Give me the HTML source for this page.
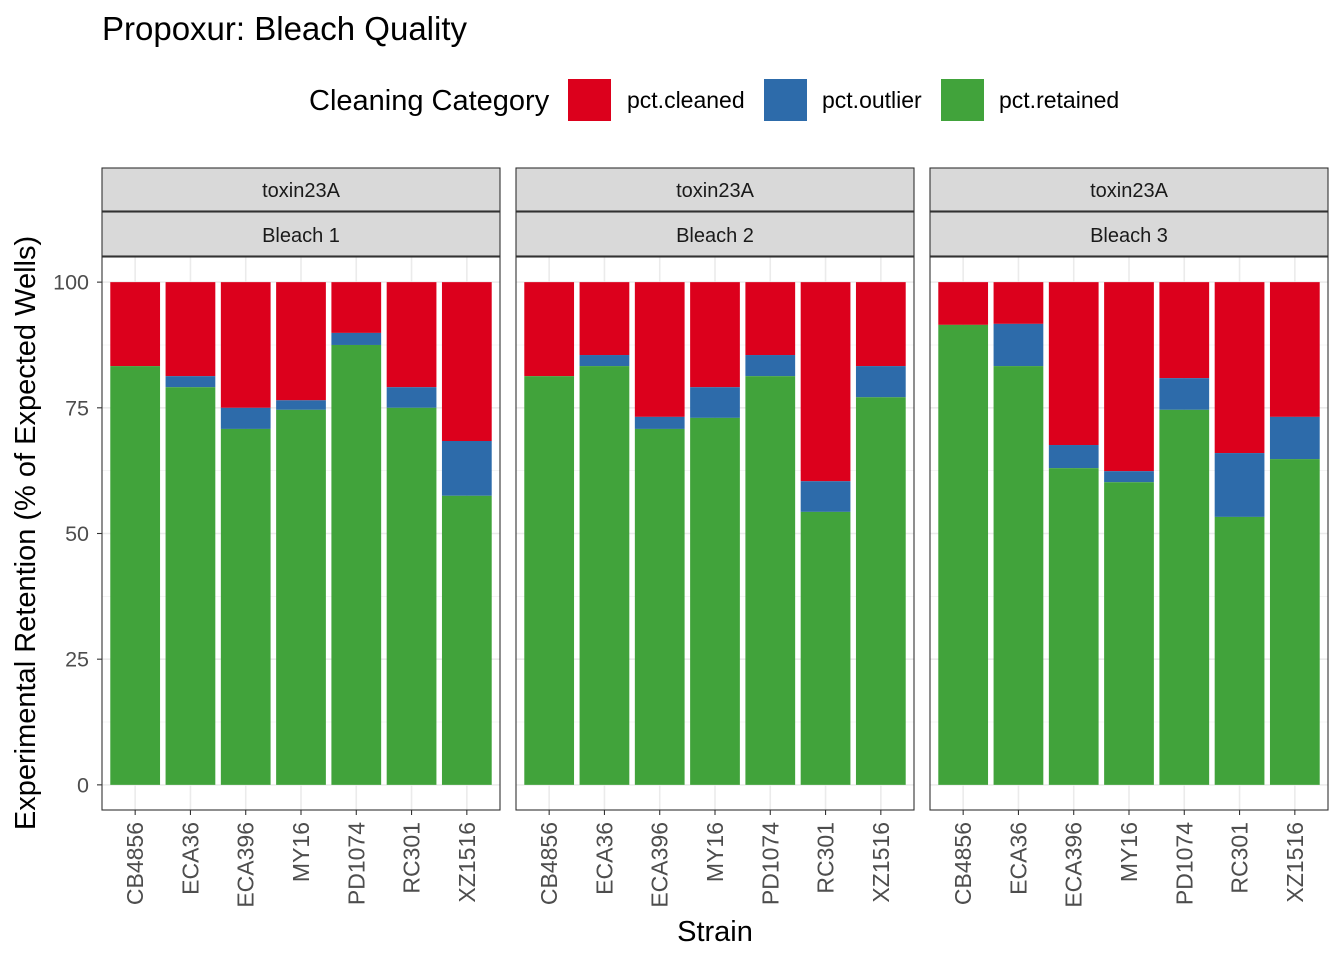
<!DOCTYPE html>
<html><head><meta charset="utf-8"><style>
body{margin:0;background:#fff;}
svg{font-family:"Liberation Sans",Arial,sans-serif;}
</style></head><body>
<svg id="chart" width="1344" height="960" xmlns="http://www.w3.org/2000/svg">
<text x="102" y="40" font-size="33" fill="#000">Propoxur: Bleach Quality</text>
<g>
<text x="309" y="110" font-size="29" fill="#000">Cleaning Category</text>
<rect x="568" y="79" width="43" height="42" fill="#DC001C"/>
<text x="627" y="108" font-size="23">pct.cleaned</text>
<rect x="764" y="79" width="43" height="42" fill="#2D6BAA"/>
<text x="822" y="108" font-size="23">pct.outlier</text>
<rect x="941" y="79" width="43" height="42" fill="#41A33B"/>
<text x="999" y="108" font-size="23">pct.retained</text>
</g>
<text transform="translate(35,533) rotate(-90)" text-anchor="middle" font-size="29">Experimental Retention (% of Expected Wells)</text>
<text x="715" y="941" text-anchor="middle" font-size="29">Strain</text>
<g id="panels"></g>
</svg>
<script>
const strains = ["CB4856","ECA36","ECA396","MY16","PD1074","RC301","XZ1516"];
const panels = ["Bleach 1","Bleach 2","Bleach 3"];
const retained1 = [83.3,79.1,70.8,74.6,87.5,75.0,57.5];
const outlier1 = [0,2.2,4.2,1.9,2.4,4.1,10.9];
const retained2 = [81.3,83.3,70.8,73.0,81.3,54.3,77.1];
const outlier2 = [0,2.2,2.4,6.1,4.2,6.1,6.2];
const retained3 = [91.5,83.3,63.0,60.2,74.6,53.3,64.8];
const outlier3 = [0,8.4,4.6,2.2,6.3,12.7,8.4];
const yTicks = [0,25,50,75,100];
const retained = [retained1,retained2,retained3];
const outlier = [outlier1,outlier2,outlier3];

const NS="http://www.w3.org/2000/svg";
const gP=document.getElementById('panels');
function mk(tag,attrs,parent){const e=document.createElementNS(NS,tag);for(const k in attrs)e.setAttribute(k,attrs[k]);(parent||gP).appendChild(e);return e;}
const plotTop=257,plotBot=810,pw=398;
const yS=v=>plotBot-(v+5)/110*(plotBot-plotTop);
const panelX=[102,516,930];
const step=pw/7.2;
panels.forEach((p,pi)=>{
  const x0=panelX[pi];
  const xc=i=>x0+(i+1-0.4)*step;
  const pg=mk('g',{});
  
  
  let s=mk('rect',{x:x0,y:168,width:pw,height:43,fill:'#D9D9D9',stroke:'#333',"stroke-width":1.1},pg);
  
  
  let t=mk('text',{x:x0+pw/2,y:197,"text-anchor":"middle","font-size":"20",fill:"#1a1a1a"},pg);
  t.textContent="toxin23A";
  
  
  s=mk('rect',{x:x0,y:212,width:pw,height:44,fill:'#D9D9D9',stroke:'#333',"stroke-width":1.1},pg);
  
  
  t=mk('text',{x:x0+pw/2,y:242,"text-anchor":"middle","font-size":"20",fill:"#1a1a1a"},pg);
  t.textContent=p;
  
  
  for(let v=12.5;v<=100;v+=25){mk('line',{x1:x0,x2:x0+pw,y1:yS(v),y2:yS(v),stroke:'#F0F0F0',"stroke-width":0.8},pg);}
  yTicks.forEach(v=>mk('line',{x1:x0,x2:x0+pw,y1:yS(v),y2:yS(v),stroke:'#EBEBEB',"stroke-width":1.6},pg));
  strains.forEach((st,i)=>mk('line',{x1:xc(i),x2:xc(i),y1:plotTop,y2:plotBot,stroke:'#EBEBEB',"stroke-width":1.6},pg));
  strains.forEach((st,i)=>{
    const bx=xc(i)-0.45*step,bw=0.9*step;
    const r=retained[pi][i],o=outlier[pi][i];
    let b=mk('rect',{x:bx,y:yS(100),width:bw,height:yS(r+o)-yS(100),fill:'#DC001C'},pg);
    
    
    b=mk('rect',{x:bx,y:yS(r+o),width:bw,height:yS(r)-yS(r+o),fill:'#2D6BAA'},pg);
    
    
    b=mk('rect',{x:bx,y:yS(r),width:bw,height:yS(0)-yS(r),fill:'#41A33B'},pg);
    
    
    mk('line',{x1:xc(i),x2:xc(i),y1:plotBot,y2:plotBot+5,stroke:'#333',"stroke-width":1.1},pg);
    const lt=mk('text',{transform:`translate(${xc(i)+8},822) rotate(-90)`,"text-anchor":"end","font-size":"23",fill:"#4D4D4D"},pg);
    lt.textContent=st;
    
    
  });
  const fr=mk('rect',{x:x0,y:plotTop,width:pw,height:plotBot-plotTop,fill:'none',stroke:'#333',"stroke-width":1.1},pg);
  
  
});
yTicks.forEach(v=>{
  mk('line',{x1:97,x2:102,y1:yS(v),y2:yS(v),stroke:'#333',"stroke-width":1.1});
  const t=mk('text',{x:89,y:yS(v)+7.5,"text-anchor":"end","font-size":"21.5",fill:"#4D4D4D"});
  t.textContent=v;
  
  
});
</script>
</body></html>
